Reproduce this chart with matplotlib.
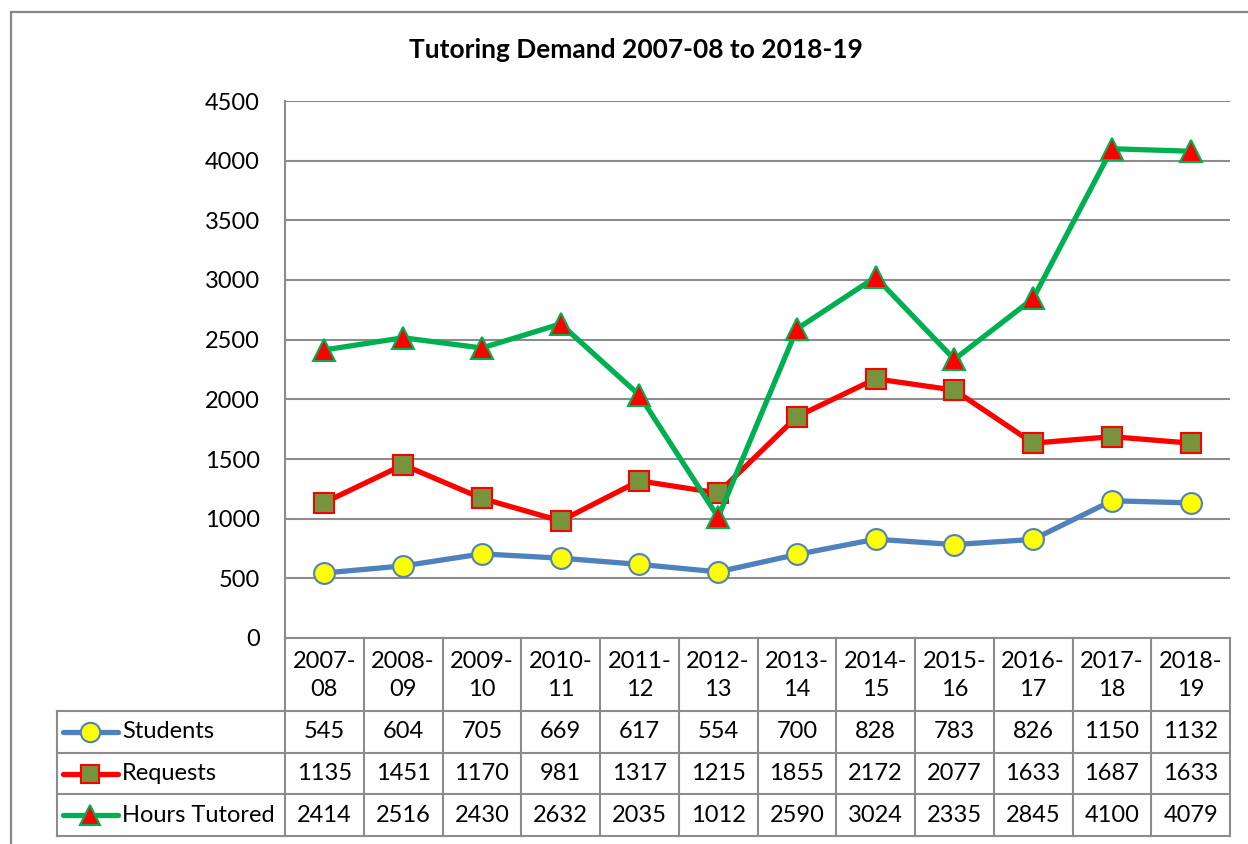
import numpy as np
import matplotlib
matplotlib.use("Agg")
import matplotlib.pyplot as plt
from matplotlib.patches import Rectangle
from matplotlib.lines import Line2D

plt.rcParams['font.family'] = ['Lato', 'DejaVu Sans']

years = ["2007-\n08", "2008-\n09", "2009-\n10", "2010-\n11", "2011-\n12", "2012-\n13",
         "2013-\n14", "2014-\n15", "2015-\n16", "2016-\n17", "2017-\n18", "2018-\n19"]
students = [545, 604, 705, 669, 617, 554, 700, 828, 783, 826, 1150, 1132]
requests = [1135, 1451, 1170, 981, 1317, 1215, 1855, 2172, 2077, 1633, 1687, 1633]
hours = [2414, 2516, 2430, 2632, 2035, 1012, 2590, 3024, 2335, 2845, 4100, 4079]
names = ["Students", "Requests", "Hours Tutored"]

W, H = 1248, 844
fig = plt.figure(figsize=(W / 100, H / 100), dpi=100)

def fx(px):
    return px / W

def fy(py):
    return 1 - py / H

# outer chart frame
fig.patches.append(Rectangle((fx(11), fy(900)), fx(1300), fy(12) - fy(900),
                             transform=fig.transFigure, fill=False,
                             edgecolor='#888888', lw=1.6))

grid_c = '#8c8c8c'
fs = 17
left, right, top, bot = 285, 1230, 101, 638
ax = fig.add_axes([fx(left), fy(bot), fx(right - left), fy(top) - fy(bot)])
x = np.arange(len(years))

styles = [
    dict(color='#4F81BD', marker='o', mfc='#FFFF00', mec='#4F81BD', ms=15, mew=1.5),
    dict(color='#FF0000', marker='s', mfc='#77933C', mec='#FF0000', ms=14.5, mew=1.5),
    dict(color='#00B050', marker='^', mfc='#FF0000', mec='#00B050', ms=16, mew=1.5),
]
for vals, st in zip([students, requests, hours], styles):
    ax.plot(x, vals, lw=3.8, zorder=3, clip_on=False, **st)

ax.set_xlim(-0.5, len(years) - 0.5)
ax.set_ylim(0, 4500)
ax.set_yticks(np.arange(0, 4501, 500))
ax.set_xticks([])
ax.yaxis.grid(True, color=grid_c, lw=1.5)
ax.set_axisbelow(True)
for s in ['top', 'right', 'bottom']:
    ax.spines[s].set_visible(False)
ax.spines['left'].set_color(grid_c)
ax.spines['left'].set_linewidth(1.5)
ax.tick_params(axis='y', length=0, labelsize=fs, pad=18)
fig.text(fx(636), fy(50), "Tutoring Demand 2007-08 to 2018-19",
         ha='center', va='center', fontsize=19, fontweight='bold')

# data table below the plot, in pixel coordinates
tab = fig.add_axes([0, 0, 1, 1])
tab.set_xlim(0, W)
tab.set_ylim(H, 0)
tab.axis('off')
cw = (right - left) / len(years)
edges = left + cw * np.arange(len(years) + 1)
centers = edges[:-1] + cw / 2
rows = [638, 711, 753, 794, 836]
leg_l = 57

kw = dict(color=grid_c, lw=1.5)
tab.plot([left, right], [rows[0]] * 2, **kw)
for r in rows[1:]:
    tab.plot([leg_l, right], [r] * 2, **kw)
for e in edges:
    tab.plot([e, e], [rows[0], rows[-1]], **kw)
tab.plot([leg_l, leg_l], [rows[1], rows[-1]], **kw)

for c, lab in zip(centers, years):
    tab.text(c, (rows[0] + rows[1]) / 2 + 1, lab, ha='center', va='center',
             fontsize=fs, linespacing=1.4)

for i, (nm, vals, st) in enumerate(zip(names, [students, requests, hours], styles)):
    ym = (rows[i + 1] + rows[i + 2]) / 2
    tab.add_line(Line2D([63, 118], [ym, ym], color=st['color'], lw=3.8,
                        solid_capstyle='round'))
    tab.add_line(Line2D([90], [ym], marker=st['marker'], mfc=st['mfc'], mec=st['mec'],
                        ms=st['ms'] - 1, mew=1.5, ls='none'))
    tab.text(122, ym, nm, ha='left', va='center', fontsize=fs)
    for c, v in zip(centers, vals):
        tab.text(c, ym, str(v), ha='center', va='center', fontsize=fs)

fig.savefig("out.png", dpi=100)
